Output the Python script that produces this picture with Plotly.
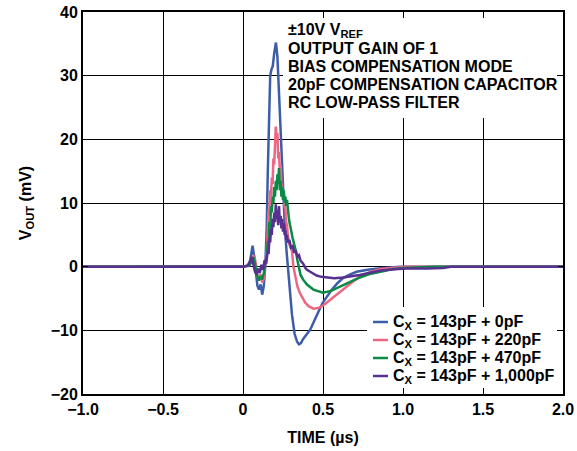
import plotly.graph_objects as go

# time in microseconds, output in millivolts
t_0pf = [-1.0, 0.0, 0.03, 0.045, 0.06, 0.07, 0.08, 0.09, 0.1, 0.11, 0.12, 0.13, 0.14,
         0.148, 0.155, 0.162, 0.17, 0.178, 0.186, 0.195, 0.206, 0.215, 0.225, 0.238,
         0.25, 0.262, 0.272, 0.28, 0.29, 0.306, 0.322, 0.338, 0.35, 0.362, 0.375, 0.4,
         0.42, 0.44, 0.46, 0.48, 0.5, 0.53, 0.556, 0.59, 0.625, 0.67, 0.71, 0.78, 0.86,
         0.98, 2.0]
v_0pf = [0, 0, 0.1, 1.0, 3.3, 1.5, -1.0, -3.0, -3.6, -2.8, -4.4, -3.0, 0.5,
         6, 15, 24, 30, 31, 31.5, 33.5, 35.2, 33, 27, 18.4,
         11, 6, 2.5, 0, -3.5, -7.5, -10.5, -11.8, -12.2, -12, -11.4, -10.6,
         -9.9, -8.8, -7.6, -6.6, -5.6, -4.5, -3.6, -2.6, -1.8, -1.2, -0.8, -0.5, -0.25,
         0, 0]

t_220pf = [-1.0, 0.0, 0.04, 0.055, 0.07, 0.08, 0.09, 0.1, 0.11, 0.12, 0.13, 0.14, 0.15,
           0.155, 0.16, 0.165, 0.17, 0.175, 0.18, 0.185, 0.19, 0.195, 0.2, 0.205, 0.21,
           0.215, 0.22, 0.225, 0.23, 0.235, 0.24, 0.245, 0.25, 0.255, 0.26, 0.265, 0.27,
           0.275, 0.28, 0.29, 0.3, 0.306, 0.315, 0.325, 0.34, 0.355, 0.37, 0.39, 0.41,
           0.44, 0.47, 0.5, 0.53, 0.56, 0.6, 0.65, 0.69, 0.73, 0.8, 0.86, 0.95, 1.02, 2.0]
v_220pf = [0, 0, 0.2, 1.0, 1.8, 0.5, -1.5, -2.0, -1.2, -2.5, -1.8, 0.5, 3,
           6, 9, 8, 12, 11, 14, 13, 17, 16, 19, 22, 20,
           21, 17, 18, 15, 16, 13, 12.5, 11, 11.5, 9.5, 9, 7,
           6.5, 5, 3.5, 2.8, 2.5, 0, -1.5, -3.1, -4.1, -4.9, -5.7, -6.2,
           -6.6, -6.5, -6.1, -5.5, -4.9, -4.0, -3.1, -2.3, -1.6, -0.8, -0.35, -0.1, 0, 0]

t_470pf = [-1.0, 0.0, 0.04, 0.055, 0.065, 0.075, 0.09, 0.1, 0.11, 0.12, 0.13, 0.14, 0.15,
           0.155, 0.16, 0.165, 0.17, 0.175, 0.18, 0.185, 0.19, 0.195, 0.2, 0.205, 0.21,
           0.215, 0.22, 0.225, 0.23, 0.235, 0.24, 0.245, 0.25, 0.255, 0.26, 0.265, 0.27,
           0.275, 0.28, 0.285, 0.29, 0.295, 0.3, 0.31, 0.32, 0.33, 0.34, 0.35, 0.36, 0.375,
           0.4, 0.44, 0.5, 0.55, 0.59, 0.63, 0.67, 0.73, 0.8, 0.86, 0.93, 1.0, 1.1, 1.2, 2.0]
v_470pf = [0, 0, 0.2, 0.8, 1.5, 0.5, -1.5, -2.2, -1.5, -2.0, -1.0, 0.5, 2,
           4, 3.5, 7, 6, 9.5, 8.5, 11, 10, 12.5, 11, 13.5, 12,
           14.5, 13, 15.5, 12, 13.5, 11, 12.5, 10.5, 12, 10, 11, 9.5,
           10.5, 8.5, 8, 7, 6.5, 5.8, 4.5, 3.5, 2.5, 1, -0.5, -1.3, -2,
           -2.8, -3.6, -4.1, -3.8, -3.3, -2.8, -2.4, -1.7, -1.1, -0.8, -0.4, -0.2, -0.1, 0, 0]

t_1000pf = [-1.0, 0.0, 0.03, 0.045, 0.055, 0.065, 0.075, 0.085, 0.095, 0.105, 0.115, 0.125,
            0.135, 0.145, 0.155, 0.16, 0.165, 0.17, 0.175, 0.18, 0.185, 0.19, 0.195, 0.2,
            0.205, 0.21, 0.215, 0.22, 0.225, 0.23, 0.235, 0.24, 0.245, 0.25, 0.255, 0.26,
            0.265, 0.27, 0.275, 0.28, 0.29, 0.3, 0.31, 0.32, 0.33, 0.34, 0.35, 0.36, 0.375,
            0.39, 0.4, 0.42, 0.44, 0.46, 0.49, 0.525, 0.57, 0.625, 0.68, 0.73, 0.8, 0.86,
            0.95, 1.02, 1.15, 1.25, 1.3, 2.0]
v_1000pf = [0, 0, 0.2, 0.8, 1.5, 0.5, -0.8, -1.2, -0.3, -1.0, 0.3, -0.5,
            1.0, 0.5, 2.5, 2, 4.5, 3.8, 6, 5, 7.5, 6.2, 8.5, 7,
            9.8, 7.5, 8.8, 6.5, 9.5, 7, 8, 6, 7.5, 5.5, 6.8, 5,
            5.8, 4.2, 5, 3.8, 4.2, 3, 3.2, 2.2, 2.5, 1.6, 1.8, 0.9, 0.5,
            -0.2, -0.5, -0.8, -1.1, -1.4, -1.6, -1.7, -1.8, -1.7, -1.5, -1.3, -0.9, -0.6,
            -0.4, -0.3, -0.3, -0.2, 0, 0]

series = [
    ("C<sub>X</sub> = 143pF + 0pF", t_0pf, v_0pf, "#3d5da8"),
    ("C<sub>X</sub> = 143pF + 220pF", t_220pf, v_220pf, "#ee6782"),
    ("C<sub>X</sub> = 143pF + 470pF", t_470pf, v_470pf, "#0b8a45"),
    ("C<sub>X</sub> = 143pF + 1,000pF", t_1000pf, v_1000pf, "#58308f"),
]

x_ticks = [-1.0, -0.5, 0, 0.5, 1.0, 1.5, 2.0]
x_labels = ["\u22121.0", "\u22120.5", "0", "0.5", "1.0", "1.5", "2.0"]
y_ticks = [-20, -10, 0, 10, 20, 30, 40]
y_labels = ["\u221220", "\u221210", "0", "10", "20", "30", "40"]

notes = ["\u00b110V V<sub>REF</sub>", "OUTPUT GAIN OF 1", "BIAS COMPENSATION MODE",
         "20pF COMPENSATION CAPACITOR", "RC LOW-PASS FILTER"]


def bold(s):
    return "<b>" + s + "</b>"


# plot area in pixels: x 83..563, y 12..394 -> helpers to place boxes in paper units
def px(x):
    return (x - 83) / 480.0


def py(y):
    return (394 - y) / 382.0


fig = go.Figure()
for name, t, v, color in series:
    fig.add_trace(go.Scatter(x=t, y=v, mode="lines", name=name, showlegend=False,
                             line=dict(color=color, width=2.5)))

axis_common = dict(
    showline=True, linecolor="black", linewidth=2, mirror="ticks",
    ticks="inside", ticklen=5, tickcolor="black", tickwidth=1,
    showgrid=True, gridcolor="black", gridwidth=1, zeroline=False,
    automargin=False, tickfont=dict(size=16, color="black"),
)

shapes = [
    # white boxes hiding the grid behind the note block and the legend,
    # kept clear of the frame so the inside ticks still show
    dict(type="rect", xref="paper", yref="paper", layer="above",
         x0=px(283), x1=px(557), y0=py(118), y1=py(18),
         fillcolor="white", line=dict(width=0)),
    dict(type="rect", xref="paper", yref="paper", layer="above",
         x0=px(367), x1=px(557), y0=py(388), y1=py(307),
         fillcolor="white", line=dict(width=0)),
]
annotations = []

for i, note in enumerate(notes):
    annotations.append(dict(
        text=bold(note), xref="paper", yref="paper",
        x=px(286), y=py(31 + 18 * i), xanchor="left", yanchor="middle",
        showarrow=False, font=dict(size=16, color="black"),
    ))

# hand-drawn legend: short line sample + label
for i, (name, t, v, color) in enumerate(series):
    yc = py(322 + 18 * i)
    shapes.append(dict(type="line", xref="paper", yref="paper", layer="above",
                       x0=px(373), x1=px(388), y0=yc, y1=yc,
                       line=dict(color=color, width=2.5)))
    annotations.append(dict(
        text=bold(name), xref="paper", yref="paper",
        x=px(391), y=yc, xanchor="left", yanchor="middle",
        showarrow=False, font=dict(size=16, color="black"),
    ))

fig.update_layout(
    width=577, height=451, autosize=False,
    margin=dict(l=83, r=14, t=12, b=57),
    paper_bgcolor="white", plot_bgcolor="white",
    font=dict(family="Liberation Sans, Arial, sans-serif", color="black"),
    showlegend=False,
    xaxis=dict(range=[-1, 2], tickmode="array", tickvals=x_ticks,
               ticktext=[bold(s) for s in x_labels],
               title=dict(text=bold("TIME (\u00b5s)"), font=dict(size=16)),
               **axis_common),
    yaxis=dict(range=[-20, 40], tickmode="array", tickvals=y_ticks,
               ticktext=[bold(s) for s in y_labels],
               title=dict(text=bold("V<sub>OUT</sub> (mV)"), font=dict(size=16)),
               **axis_common),
    shapes=shapes,
    annotations=annotations,
)

fig.write_html("out.html", config={"displayModeBar": False},
               post_script="document.body.style.margin='0';")
